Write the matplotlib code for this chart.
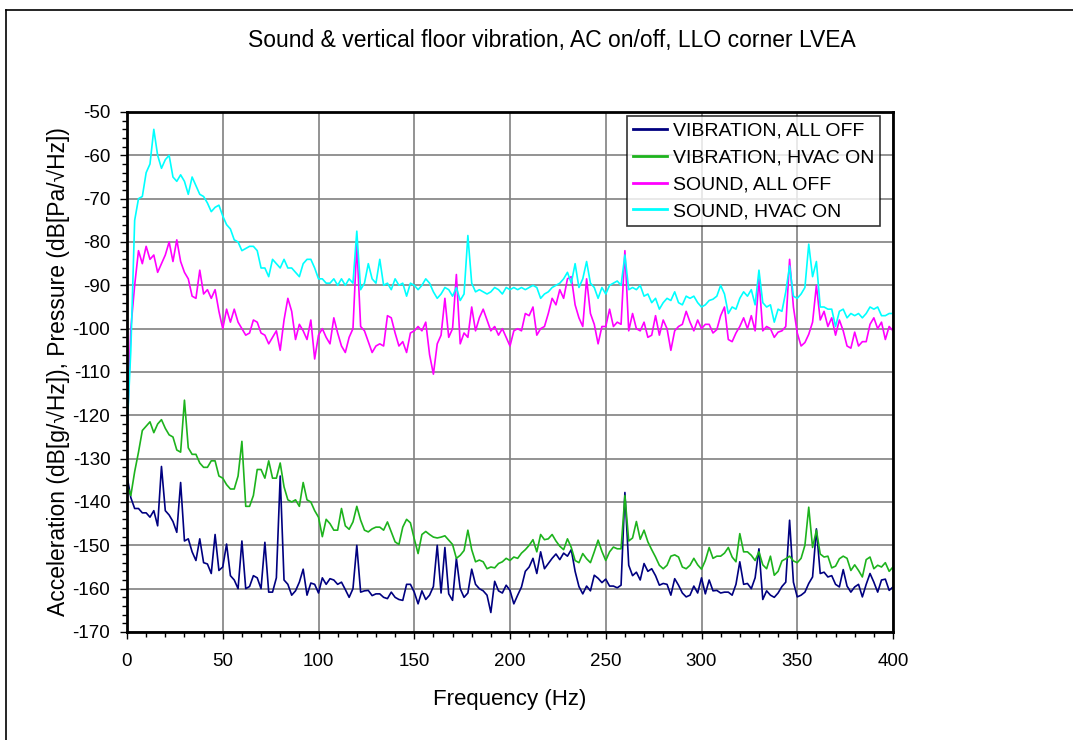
import numpy as np
import matplotlib
matplotlib.use("Agg")
import matplotlib.pyplot as plt
from matplotlib.ticker import MultipleLocator
from matplotlib.lines import Line2D

plt.rcParams['font.family'] = ['Liberation Sans', 'DejaVu Sans']
plt.rcParams['axes.unicode_minus'] = False

freq = np.arange(0, 401, 2)

vib_off = [
    -134, -139, -141.5, -141.5, -142.5, -142.5, -143.5, -142, -145.5, -131.8,
    -142, -143, -144.5, -147, -135.5, -149, -148.5, -151.5, -153.5, -148.5,
    -154, -154.3, -156.5, -147.5, -155.8, -155, -149.7, -157, -158, -160,
    -149, -160, -159.5, -157, -157.5, -160, -149.3, -160.8, -160.8, -157.5,
    -134, -158, -159, -161.5, -160.5, -158.5, -155.5, -161.5, -158.7, -159,
    -161, -157.5, -159, -157.7, -158, -159, -158.5, -160.2, -162, -160,
    -150, -160.8, -160.5, -160.4, -161.6, -161.2, -161.2, -162, -162.3, -160.8,
    -162, -162.5, -162.7, -159, -159, -160.8, -163.5, -160.5, -162.5, -161.5,
    -159.5, -150, -161, -150.5, -161.2, -162.7, -153, -160, -162, -161,
    -155.5, -159, -160, -160.5, -161.5, -165.5, -158.3, -160.5, -161, -159.2,
    -160.4, -163.5, -161.5, -159.6, -156, -155, -153, -156.5, -151.5, -155.4,
    -154.2, -153, -152, -153.3, -151.8, -152.5, -151, -156, -159.5, -161.2,
    -159.4, -160.5, -156.9, -157.6, -158.6, -157.8, -159.4, -159.4, -159.8, -159.2,
    -137.8, -154.6, -157, -156.2, -158, -154.2, -156, -155.4, -157, -159.2,
    -158.8, -159, -161.5, -157.7, -159.2, -161, -161.9, -161.5, -159.4, -161,
    -157.5, -161.2, -158, -160.5, -160.4, -161, -160.8, -160.8, -161.5, -159,
    -153.8, -159, -158.8, -160, -157.5, -150.8, -162.5, -160.5, -161.5, -162,
    -161, -159.5, -158.5, -144.2, -158.5, -161.9, -161.5, -160.8, -158.8, -157.3,
    -146.2, -156.5, -156.2, -157.3, -157, -159, -159.6, -155.6, -159.4, -160.8,
    -159.6, -159, -161.9, -159, -156.5, -158.5, -160.8, -158, -157.8, -160.4,
    -159.6,
]

vib_on = [
    -136, -138.5, -133, -128.5, -123.5, -122.5, -121.5, -124, -122, -121,
    -123, -124.5, -125, -128, -128.5, -116.5, -127.5, -129, -129, -131,
    -132, -132, -130.5, -130.5, -134, -134.5, -136, -137, -137, -134,
    -126, -141, -141, -138.5, -132.5, -132.5, -134.5, -130.5, -134.5, -134.5,
    -131, -136.5, -139.5, -140, -139.5, -141, -135.5, -139.5, -140, -142,
    -143.5, -148, -144, -145, -146.5, -146.5, -141.5, -145.5, -146.3, -144.6,
    -141, -144.2, -146.5, -146.9, -146.2, -145.8, -145.8, -146.5, -144.6, -146.9,
    -149.2, -149.8, -145.8, -144, -144.8, -148.5, -151.9, -147.5, -146.8, -147.5,
    -148.1, -148.3, -148.1, -147.8, -148.8, -149.8, -153, -152.3, -151.2, -146.5,
    -151, -153.8, -153.4, -153.8, -155.4, -155, -155.2, -154.2, -153.8, -153,
    -153.5, -152.7, -153, -151.8, -151, -150, -148.7, -151.5, -147.5, -148.7,
    -148.5, -147.5, -149, -150.2, -151, -148.5, -150.5, -153.5, -154, -151.9,
    -153.1, -154, -151.5, -148.8, -151.4, -153.5, -151.5, -150.4, -150.8, -150.8,
    -138.5, -149, -148.3, -144.5, -148.6, -146.5, -149.2, -151, -152.7, -154.6,
    -155.4, -154.6, -152.5, -152.2, -152.7, -155, -155.4, -154.6, -153, -154.5,
    -155.5, -153.5, -150.5, -153, -152.5, -152.5, -151.8, -150.5, -152.7, -153.8,
    -147.3, -151.5, -151.5, -152.3, -153.5, -151.5, -154.5, -155.4, -152.5, -156.9,
    -156, -153.6, -153.1, -152.5, -153.6, -154, -153, -150, -141.2, -150.5,
    -146.5, -152, -152.7, -152.5, -155.2, -154.8, -153.1, -152.5, -153, -155.8,
    -154.5, -155.8, -157.3, -153.3, -152.7, -155.4, -154.6, -155, -154, -156,
    -155,
]

sound_off = [
    -125, -100, -90, -82, -85, -81, -84, -83, -87, -85,
    -83, -80, -84.5, -79.5, -84.5, -87, -88.5, -92.5, -93, -86.5,
    -92, -91, -93, -91, -96, -100, -95.5, -98.5, -95.5, -98.5,
    -100, -101.5, -101, -98, -98.5, -101, -101.5, -103.5, -102, -100.5,
    -105, -98, -93, -96, -102.5, -99, -100.5, -102.5, -98, -107,
    -101.5, -100, -102, -103.5, -97.5, -101, -104, -105.5, -102, -100,
    -80.5, -99.5, -100.5, -103, -105.5, -104, -103.5, -104, -97, -97.5,
    -101, -104, -103, -105.5, -101, -100.5, -99.5, -100.5, -98.5, -106,
    -110.5, -103.5, -101.5, -93, -102, -100, -87.5, -103.5, -101, -102,
    -95, -100.5, -97.5, -95.5, -98, -100.5, -99.5, -101.5, -100, -102,
    -104, -100.5, -100, -100.5, -96.5, -97, -95, -101.5, -100, -99.5,
    -96.5, -93, -94.5, -91, -93, -88.5, -88, -94.5, -97.5, -99.5,
    -88.5, -96.5, -99, -103.5, -99.5, -99.5, -95.5, -99.5, -98.5, -99,
    -82, -100.5, -96.5, -100, -100.5, -98.5, -102, -101.5, -97, -101.5,
    -98, -100, -105, -100.5, -99.5, -99, -96, -98.5, -100.5, -98,
    -100, -99, -99, -101, -100.2, -97, -95, -102.5, -103, -101,
    -99.5, -97.5, -100, -97, -100.5, -88.5, -100.5, -99.5, -100, -102,
    -100.8, -100.5, -99.5, -84, -95, -101, -104, -103.2, -101.3, -98.5,
    -90, -98, -96, -99.5, -97.5, -101.5, -98, -100.5, -104, -104.5,
    -100.8, -104, -103, -103, -99, -97.5, -100, -98.5, -102.5, -99.5,
    -100.5,
]

sound_on = [
    -124, -105, -75, -70, -69.5, -64, -62, -54, -60, -63,
    -61, -60, -65, -66, -64.5, -66, -69, -65, -67, -69,
    -69.5, -71, -73, -72, -71.5, -74, -76, -77, -79.5, -80,
    -82, -81.5, -81, -81, -82, -86, -86, -88, -84, -85,
    -86, -84, -86, -86, -87, -88, -85, -84, -84, -86,
    -88.5, -88.5, -89.5, -89.5, -88.5, -90, -88.5, -90, -88.5, -89.5,
    -77.5, -91, -89.5, -85, -88.5, -89.5, -84, -90, -89.5, -91,
    -88.5, -90, -89.5, -92.5, -89.5, -90, -91, -90, -88.5, -89.5,
    -91.5, -93, -92, -90.5, -91, -92.5, -90.5, -93.5, -92, -78.5,
    -89.5, -91.5, -91, -91.5, -92, -91.5, -90.5, -91, -92, -90.5,
    -91, -90.5, -91, -90.5, -91, -90.5, -90, -90.5, -93, -92,
    -91.5, -90.5, -90, -89.5, -88.5, -87, -89.5, -85, -90.5, -88.5,
    -84.5, -89.5, -90.5, -93, -90.5, -92, -90, -89.5, -89, -90,
    -83, -91, -90.5, -91, -90, -92.5, -92, -94, -93, -95.5,
    -94, -93, -93.5, -91.5, -94, -94.5, -92.5, -93, -92.5, -94,
    -95, -94.5, -93.5, -93.2, -92.5, -90, -92, -96.5, -95, -95.5,
    -93, -91.5, -92.5, -91, -94.5, -86.5, -94, -95, -94.5, -98.5,
    -95.5, -96, -91.5, -85.5, -92.5, -93, -92, -90.5, -80.5, -88,
    -84.5, -95, -95, -95.5, -95.5, -99.5, -96, -95.5, -97.5, -96.5,
    -97, -96.5, -97.5, -96.5, -95, -95.5, -95, -97, -97, -96.5,
    -96.5,
]

series_labels = ["VIBRATION, ALL OFF", "VIBRATION, HVAC ON", "SOUND, ALL OFF", "SOUND, HVAC ON"]
series_colors = ["#000080", "#1db31d", "#ff00ff", "#00ffff"]
x_ticks = [0, 50, 100, 150, 200, 250, 300, 350, 400]
y_ticks = [-170, -160, -150, -140, -130, -120, -110, -100, -90, -80, -70, -60, -50]

fig = plt.figure(figsize=(10.73, 7.40), dpi=100)
ax = fig.add_axes([127/1073, 1 - 632/740, (893-127)/1073, (632-112)/740])

for vals, lab, col in zip([vib_off, vib_on, sound_off, sound_on], series_labels, series_colors):
    ax.plot(freq, vals, color=col, lw=1.2, label=lab)

ax.set_xlim(0, 400)
ax.set_ylim(-170, -50)
ax.set_xticks(x_ticks)
ax.set_yticks(y_ticks)
ax.xaxis.set_minor_locator(MultipleLocator(10))
ax.yaxis.set_minor_locator(MultipleLocator(2))
ax.tick_params(which='major', direction='out', length=5, width=1, labelsize=13.5)
ax.tick_params(axis='y', which='major', pad=7)
ax.tick_params(axis='x', which='major', pad=10)
ax.tick_params(which='minor', direction='out', length=3.5, width=1)
ax.grid(True, which='major', color='#808080', lw=1.2)
ax.set_axisbelow(True)
for sp in ax.spines.values():
    sp.set_linewidth(2)
    sp.set_color('black')

ax.set_xlabel("Frequency (Hz)", fontsize=16, labelpad=14)
ax.set_ylabel("Acceleration (dB[g/\u221aHz]), Pressure (dB[Pa/\u221aHz])", fontsize=16.5, labelpad=1.5)
fig.text(552/1073, 1 - 41/740, "Sound & vertical floor vibration, AC on/off, LLO corner LVEA",
         ha='center', va='center', fontsize=16.5)

leg = ax.legend(loc='upper right', bbox_to_anchor=(1 - 13/766, 1 - 4/520), fontsize=14,
                frameon=True, fancybox=False, borderaxespad=0, handlelength=1.75,
                handletextpad=0.3, labelspacing=0.48, borderpad=0.3)
leg.get_frame().set_edgecolor('black')
leg.get_frame().set_linewidth(1.2)
for ln in leg.get_lines():
    ln.set_linewidth(2)

# outer frame (top and left edges)
fig.add_artist(Line2D([6/1073, 6/1073], [0, 1 - 10/740], transform=fig.transFigure, color='black', lw=1.2))
fig.add_artist(Line2D([6/1073, 1], [1 - 10/740, 1 - 10/740], transform=fig.transFigure, color='black', lw=1.2))

fig.savefig("out.png", dpi=100)
